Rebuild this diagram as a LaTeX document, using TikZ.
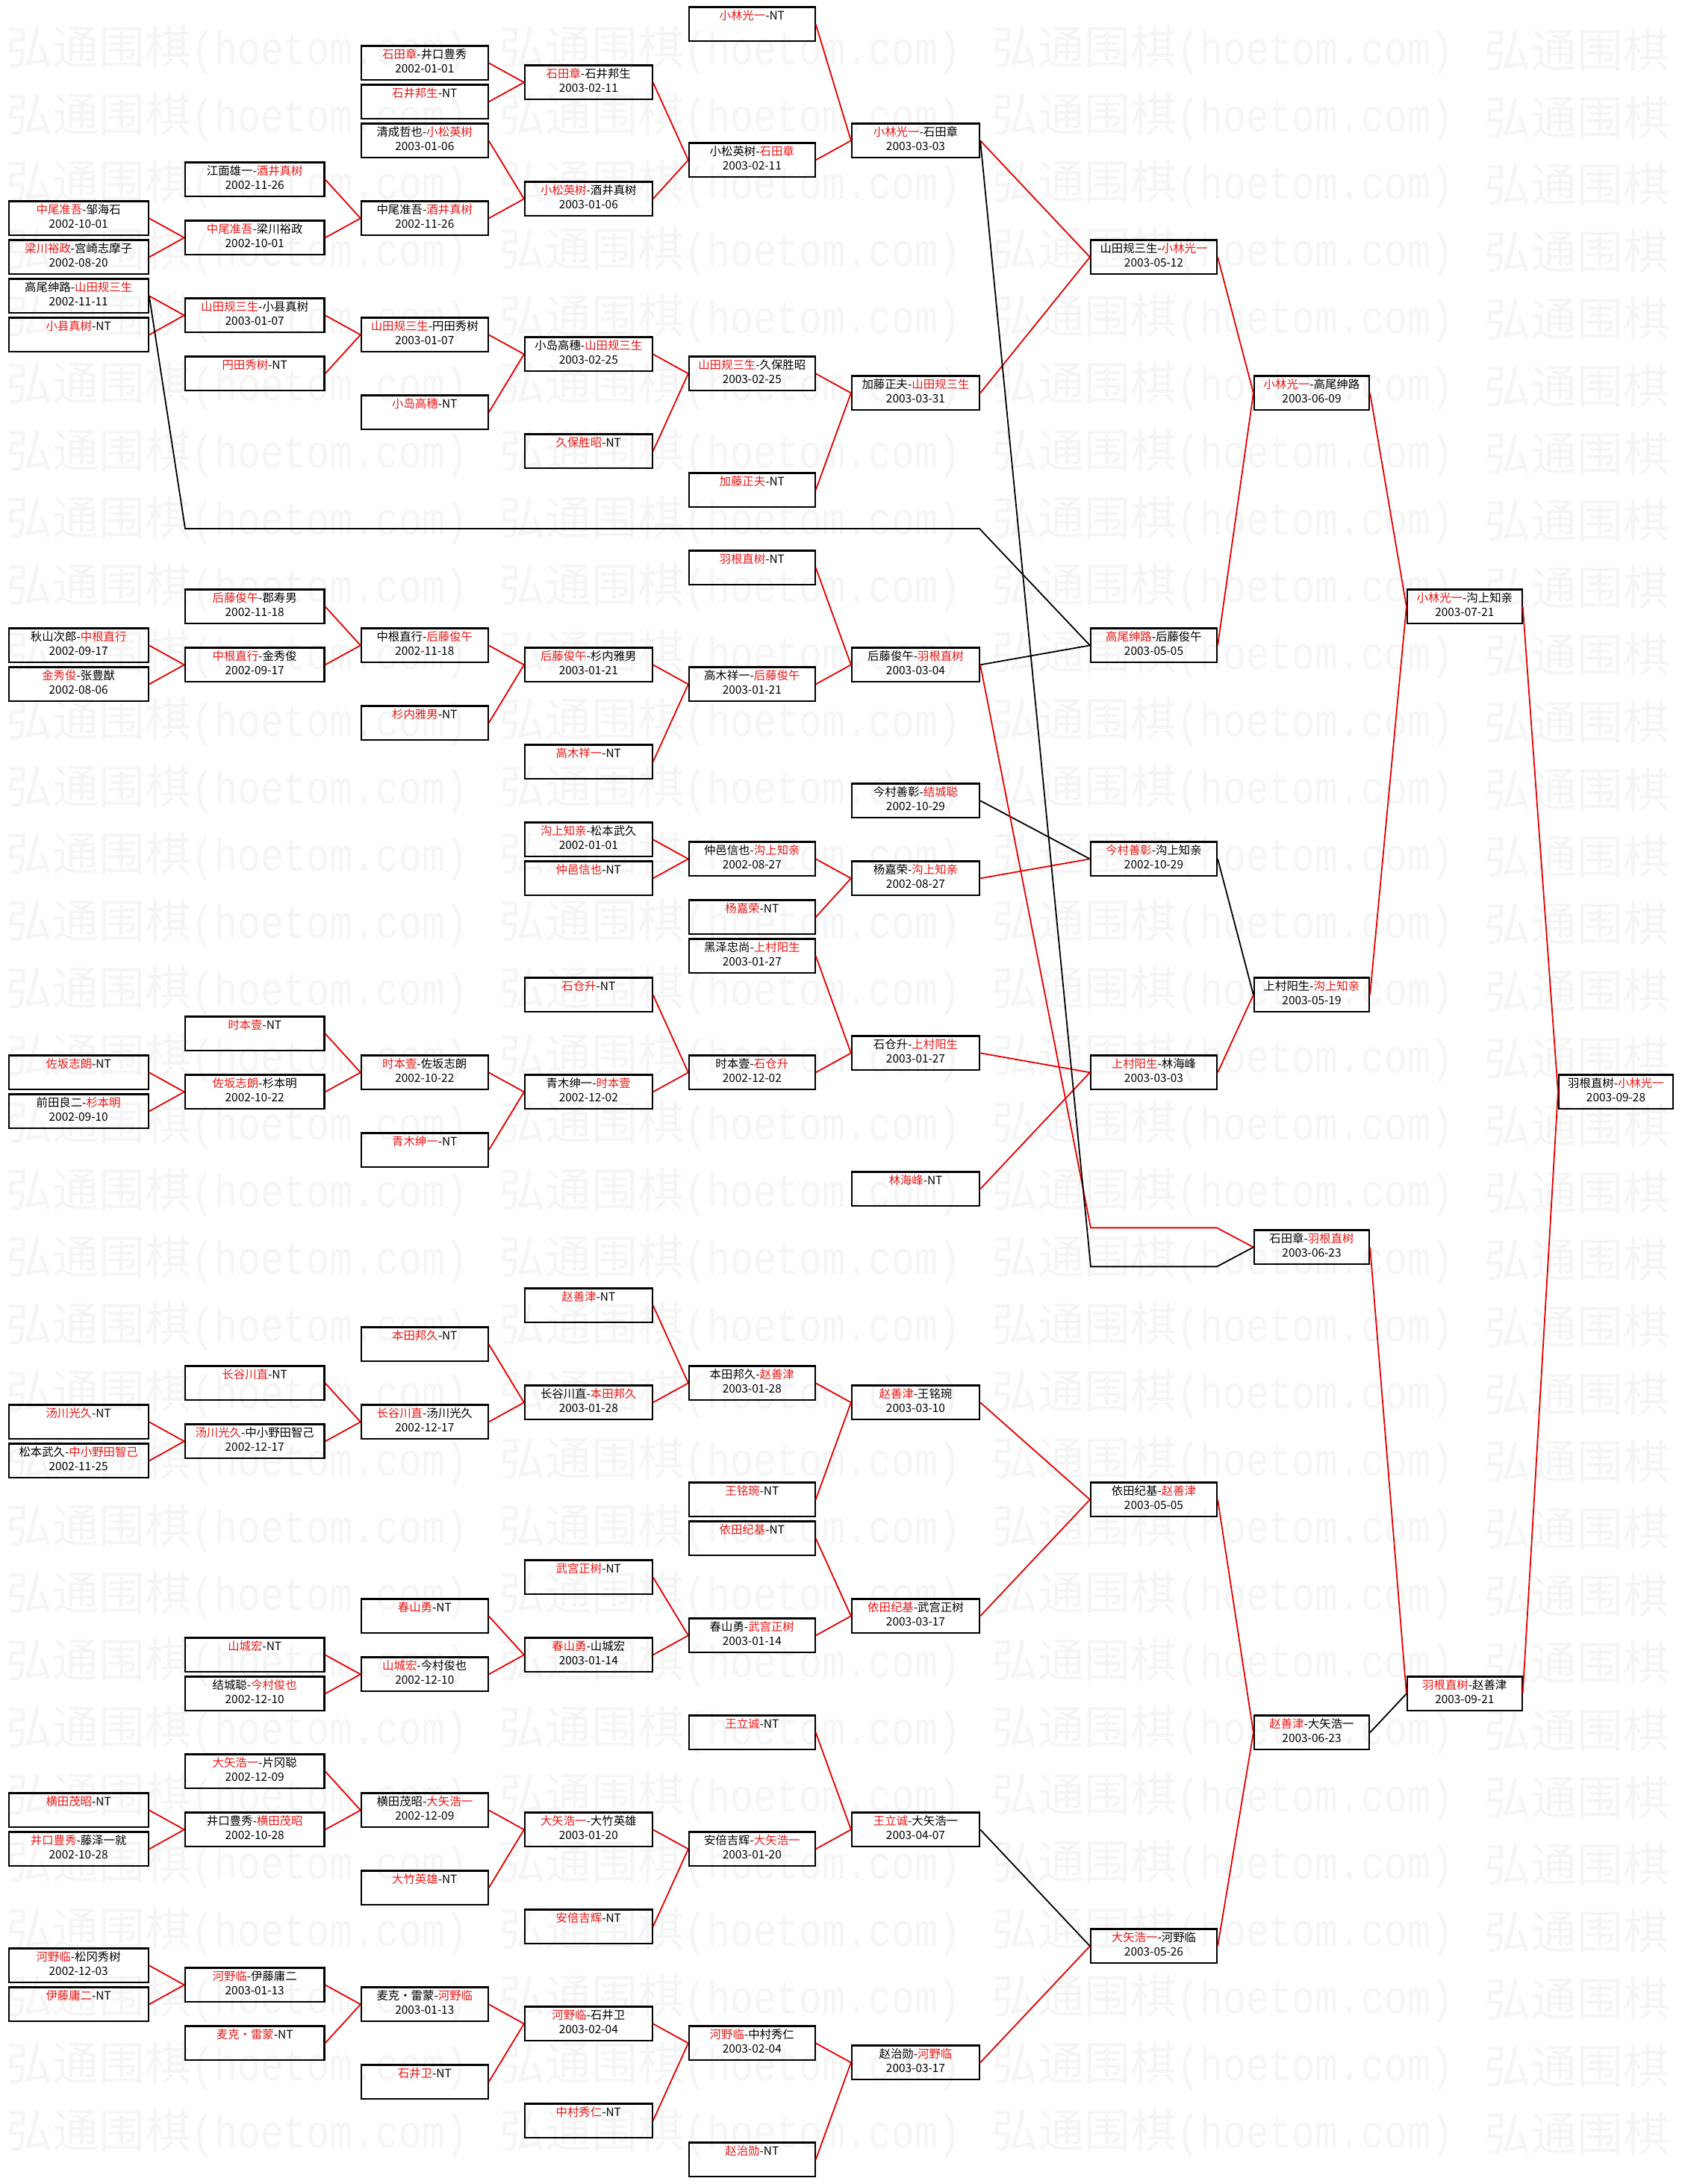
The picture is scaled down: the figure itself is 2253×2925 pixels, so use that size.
\documentclass[tikz,border=0pt]{standalone}
\usepackage{fontspec}
\newfontfamily\cjk{Noto Sans CJK SC}
\newfontfamily\wmmono[FakeStretch=0.83]{Liberation Mono}
\definecolor{wred}{RGB}{228,0,0}
\definecolor{tred}{RGB}{232,24,24}
\definecolor{wmc}{RGB}{245,245,245}
\newcommand\R[1]{\textcolor{tred}{#1}}
\newcommand\defcol[3]{\expandafter\def\csname colx#1\endcsname{#2}\expandafter\def\csname colw#1\endcsname{#3}}
\defcol{1}{105.2}{93.5pt}
\defcol{2}{341.2}{93.3pt}
\defcol{3}{568.8}{84.8pt}
\defcol{4}{788.3}{85.3pt}
\defcol{5}{1007.3}{84.3pt}
\defcol{6}{1226.5}{85.5pt}
\defcol{7}{1545.5}{84.5pt}
\defcol{8}{1757}{77pt}
\defcol{9}{1961.8}{76.8pt}
\defcol{10}{2164.5}{76.5pt}
\newcommand\cb[4]{%
  \edef\cbx{\csname colx#1\endcsname}\edef\cbw{\csname colw#1\endcsname}%
  \node[gbox, minimum width=\cbw] (c#1k#2) at (\cbx, {32.35+26*#2}) {\strut #3\\\strut #4};}
\newcommand\lk[3]{\draw[#1] (#2.east) -- (#3.west);}
\begin{document}
\begin{tikzpicture}[x=0.5pt,y=-0.5pt,
  gbox/.style={draw=black, line width=1.1pt, minimum height=22.85pt, inner sep=0pt, align=center, font=\cjk\fontsize{7.7}{9.2}\selectfont},
  rl/.style={draw=wred, line width=0.9pt},
  bl/.style={draw=black, line width=0.9pt},
  wmk/.style={text=wmc, anchor=west, inner sep=0pt}]
\useasboundingbox (0,0) rectangle (2253,2925);
\fill[white] (0,0) rectangle (2253,2925);
% watermark
\foreach \r in {0,...,31} {
  \foreach \c in {0,1,2} {
    \node[wmk] (wm-\r-\c) at ({8+660*\c},{67+90*\r}) {\cjk\fontsize{31}{31}\selectfont 弘通围棋\wmmono(hoetom.com)};}
  \node[wmk] (wm-\r-3) at (1988,{67+90*\r}) {\cjk\fontsize{31}{31}\selectfont 弘通围棋};}
% column 1
\cb{1}{10}{\R{中尾准吾}-邹海石}{2002-10-01}
\cb{1}{12}{\R{梁川裕政}-宫崎志摩子}{2002-08-20}
\cb{1}{14}{高尾绅路-\R{山田规三生}}{2002-11-11}
\cb{1}{16}{\R{小县真树}-NT}{}
\cb{1}{32}{秋山次郎-\R{中根直行}}{2002-09-17}
\cb{1}{34}{\R{金秀俊}-张豊猷}{2002-08-06}
\cb{1}{54}{\R{佐坂志朗}-NT}{}
\cb{1}{56}{前田良二-\R{杉本明}}{2002-09-10}
\cb{1}{72}{\R{汤川光久}-NT}{}
\cb{1}{74}{松本武久-\R{中小野田智己}}{2002-11-25}
\cb{1}{92}{\R{横田茂昭}-NT}{}
\cb{1}{94}{\R{井口豊秀}-藤泽一就}{2002-10-28}
\cb{1}{100}{\R{河野临}-松冈秀树}{2002-12-03}
\cb{1}{102}{\R{伊藤庸二}-NT}{}
% column 2
\cb{2}{8}{江面雄一-\R{酒井真树}}{2002-11-26}
\cb{2}{11}{\R{中尾准吾}-梁川裕政}{2002-10-01}
\cb{2}{15}{\R{山田规三生}-小县真树}{2003-01-07}
\cb{2}{18}{\R{円田秀树}-NT}{}
\cb{2}{30}{\R{后藤俊午}-郡寿男}{2002-11-18}
\cb{2}{33}{\R{中根直行}-金秀俊}{2002-09-17}
\cb{2}{52}{\R{时本壹}-NT}{}
\cb{2}{55}{\R{佐坂志朗}-杉本明}{2002-10-22}
\cb{2}{70}{\R{长谷川直}-NT}{}
\cb{2}{73}{\R{汤川光久}-中小野田智己}{2002-12-17}
\cb{2}{84}{\R{山城宏}-NT}{}
\cb{2}{86}{结城聪-\R{今村俊也}}{2002-12-10}
\cb{2}{90}{\R{大矢浩一}-片冈聪}{2002-12-09}
\cb{2}{93}{井口豊秀-\R{横田茂昭}}{2002-10-28}
\cb{2}{101}{\R{河野临}-伊藤庸二}{2003-01-13}
\cb{2}{104}{\R{麦克・雷蒙}-NT}{}
% column 3
\cb{3}{2}{\R{石田章}-井口豊秀}{2002-01-01}
\cb{3}{4}{\R{石井邦生}-NT}{}
\cb{3}{6}{清成哲也-\R{小松英树}}{2003-01-06}
\cb{3}{10}{中尾准吾-\R{酒井真树}}{2002-11-26}
\cb{3}{16}{\R{山田规三生}-円田秀树}{2003-01-07}
\cb{3}{20}{\R{小岛高穗}-NT}{}
\cb{3}{32}{中根直行-\R{后藤俊午}}{2002-11-18}
\cb{3}{36}{\R{杉内雅男}-NT}{}
\cb{3}{54}{\R{时本壹}-佐坂志朗}{2002-10-22}
\cb{3}{58}{\R{青木绅一}-NT}{}
\cb{3}{68}{\R{本田邦久}-NT}{}
\cb{3}{72}{\R{长谷川直}-汤川光久}{2002-12-17}
\cb{3}{82}{\R{春山勇}-NT}{}
\cb{3}{85}{\R{山城宏}-今村俊也}{2002-12-10}
\cb{3}{92}{横田茂昭-\R{大矢浩一}}{2002-12-09}
\cb{3}{96}{\R{大竹英雄}-NT}{}
\cb{3}{102}{麦克・雷蒙-\R{河野临}}{2003-01-13}
\cb{3}{106}{\R{石井卫}-NT}{}
% column 4
\cb{4}{3}{\R{石田章}-石井邦生}{2003-02-11}
\cb{4}{9}{\R{小松英树}-酒井真树}{2003-01-06}
\cb{4}{17}{小岛高穗-\R{山田规三生}}{2003-02-25}
\cb{4}{22}{\R{久保胜昭}-NT}{}
\cb{4}{33}{\R{后藤俊午}-杉内雅男}{2003-01-21}
\cb{4}{38}{\R{高木祥一}-NT}{}
\cb{4}{42}{\R{沟上知亲}-松本武久}{2002-01-01}
\cb{4}{44}{\R{仲邑信也}-NT}{}
\cb{4}{50}{\R{石仓升}-NT}{}
\cb{4}{55}{青木绅一-\R{时本壹}}{2002-12-02}
\cb{4}{66}{\R{赵善津}-NT}{}
\cb{4}{71}{长谷川直-\R{本田邦久}}{2003-01-28}
\cb{4}{80}{\R{武宫正树}-NT}{}
\cb{4}{84}{\R{春山勇}-山城宏}{2003-01-14}
\cb{4}{93}{\R{大矢浩一}-大竹英雄}{2003-01-20}
\cb{4}{98}{\R{安倍吉辉}-NT}{}
\cb{4}{103}{\R{河野临}-石井卫}{2003-02-04}
\cb{4}{108}{\R{中村秀仁}-NT}{}
% column 5
\cb{5}{0}{\R{小林光一}-NT}{}
\cb{5}{7}{小松英树-\R{石田章}}{2003-02-11}
\cb{5}{18}{\R{山田规三生}-久保胜昭}{2003-02-25}
\cb{5}{24}{\R{加藤正夫}-NT}{}
\cb{5}{28}{\R{羽根直树}-NT}{}
\cb{5}{34}{高木祥一-\R{后藤俊午}}{2003-01-21}
\cb{5}{43}{仲邑信也-\R{沟上知亲}}{2002-08-27}
\cb{5}{46}{\R{杨嘉荣}-NT}{}
\cb{5}{48}{黑泽忠尚-\R{上村阳生}}{2003-01-27}
\cb{5}{54}{时本壹-\R{石仓升}}{2002-12-02}
\cb{5}{70}{本田邦久-\R{赵善津}}{2003-01-28}
\cb{5}{76}{\R{王铭琬}-NT}{}
\cb{5}{78}{\R{依田纪基}-NT}{}
\cb{5}{83}{春山勇-\R{武宫正树}}{2003-01-14}
\cb{5}{88}{\R{王立诚}-NT}{}
\cb{5}{94}{安倍吉辉-\R{大矢浩一}}{2003-01-20}
\cb{5}{104}{\R{河野临}-中村秀仁}{2003-02-04}
\cb{5}{110}{\R{赵治勋}-NT}{}
% column 6
\cb{6}{6}{\R{小林光一}-石田章}{2003-03-03}
\cb{6}{19}{加藤正夫-\R{山田规三生}}{2003-03-31}
\cb{6}{33}{后藤俊午-\R{羽根直树}}{2003-03-04}
\cb{6}{40}{今村善彰-\R{结城聪}}{2002-10-29}
\cb{6}{44}{杨嘉荣-\R{沟上知亲}}{2002-08-27}
\cb{6}{53}{石仓升-\R{上村阳生}}{2003-01-27}
\cb{6}{60}{\R{林海峰}-NT}{}
\cb{6}{71}{\R{赵善津}-王铭琬}{2003-03-10}
\cb{6}{82}{\R{依田纪基}-武宫正树}{2003-03-17}
\cb{6}{93}{\R{王立诚}-大矢浩一}{2003-04-07}
\cb{6}{105}{赵治勋-\R{河野临}}{2003-03-17}
% column 7
\cb{7}{12}{山田规三生-\R{小林光一}}{2003-05-12}
\cb{7}{32}{\R{高尾绅路}-后藤俊午}{2003-05-05}
\cb{7}{43}{\R{今村善彰}-沟上知亲}{2002-10-29}
\cb{7}{54}{\R{上村阳生}-林海峰}{2003-03-03}
\cb{7}{76}{依田纪基-\R{赵善津}}{2003-05-05}
\cb{7}{99}{\R{大矢浩一}-河野临}{2003-05-26}
% column 8
\cb{8}{19}{\R{小林光一}-高尾绅路}{2003-06-09}
\cb{8}{50}{上村阳生-\R{沟上知亲}}{2003-05-19}
\cb{8}{63}{石田章-\R{羽根直树}}{2003-06-23}
\cb{8}{88}{\R{赵善津}-大矢浩一}{2003-06-23}
% column 9
\cb{9}{30}{\R{小林光一}-沟上知亲}{2003-07-21}
\cb{9}{86}{\R{羽根直树}-赵善津}{2003-09-21}
% column 10
\cb{10}{55}{羽根直树-\R{小林光一}}{2003-09-28}
% links col1 -> col2
\lk{rl}{c1k10}{c2k11}\lk{rl}{c1k12}{c2k11}
\lk{rl}{c1k14}{c2k15}\lk{rl}{c1k16}{c2k15}
\lk{rl}{c1k32}{c2k33}\lk{rl}{c1k34}{c2k33}
\lk{rl}{c1k54}{c2k55}\lk{rl}{c1k56}{c2k55}
\lk{rl}{c1k72}{c2k73}\lk{rl}{c1k74}{c2k73}
\lk{rl}{c1k92}{c2k93}\lk{rl}{c1k94}{c2k93}
\lk{rl}{c1k100}{c2k101}\lk{rl}{c1k102}{c2k101}
% col2 -> col3
\lk{rl}{c2k8}{c3k10}\lk{rl}{c2k11}{c3k10}
\lk{rl}{c2k15}{c3k16}\lk{rl}{c2k18}{c3k16}
\lk{rl}{c2k30}{c3k32}\lk{rl}{c2k33}{c3k32}
\lk{rl}{c2k52}{c3k54}\lk{rl}{c2k55}{c3k54}
\lk{rl}{c2k70}{c3k72}\lk{rl}{c2k73}{c3k72}
\lk{rl}{c2k84}{c3k85}\lk{rl}{c2k86}{c3k85}
\lk{rl}{c2k90}{c3k92}\lk{rl}{c2k93}{c3k92}
\lk{rl}{c2k101}{c3k102}\lk{rl}{c2k104}{c3k102}
% col3 -> col4
\lk{rl}{c3k2}{c4k3}\lk{rl}{c3k4}{c4k3}
\lk{rl}{c3k6}{c4k9}\lk{rl}{c3k10}{c4k9}
\lk{rl}{c3k16}{c4k17}\lk{rl}{c3k20}{c4k17}
\lk{rl}{c3k32}{c4k33}\lk{rl}{c3k36}{c4k33}
\lk{rl}{c3k54}{c4k55}\lk{rl}{c3k58}{c4k55}
\lk{rl}{c3k68}{c4k71}\lk{rl}{c3k72}{c4k71}
\lk{rl}{c3k82}{c4k84}\lk{rl}{c3k85}{c4k84}
\lk{rl}{c3k92}{c4k93}\lk{rl}{c3k96}{c4k93}
\lk{rl}{c3k102}{c4k103}\lk{rl}{c3k106}{c4k103}
% col4 -> col5
\lk{rl}{c4k3}{c5k7}\lk{rl}{c4k9}{c5k7}
\lk{rl}{c4k17}{c5k18}\lk{rl}{c4k22}{c5k18}
\lk{rl}{c4k33}{c5k34}\lk{rl}{c4k38}{c5k34}
\lk{rl}{c4k42}{c5k43}\lk{rl}{c4k44}{c5k43}
\lk{rl}{c4k50}{c5k54}\lk{rl}{c4k55}{c5k54}
\lk{rl}{c4k66}{c5k70}\lk{rl}{c4k71}{c5k70}
\lk{rl}{c4k80}{c5k83}\lk{rl}{c4k84}{c5k83}
\lk{rl}{c4k93}{c5k94}\lk{rl}{c4k98}{c5k94}
\lk{rl}{c4k103}{c5k104}\lk{rl}{c4k108}{c5k104}
% col5 -> col6
\lk{rl}{c5k0}{c6k6}\lk{rl}{c5k7}{c6k6}
\lk{rl}{c5k18}{c6k19}\lk{rl}{c5k24}{c6k19}
\lk{rl}{c5k28}{c6k33}\lk{rl}{c5k34}{c6k33}
\lk{rl}{c5k43}{c6k44}\lk{rl}{c5k46}{c6k44}
\lk{rl}{c5k48}{c6k53}\lk{rl}{c5k54}{c6k53}
\lk{rl}{c5k70}{c6k71}\lk{rl}{c5k76}{c6k71}
\lk{rl}{c5k78}{c6k82}\lk{rl}{c5k83}{c6k82}
\lk{rl}{c5k88}{c6k93}\lk{rl}{c5k94}{c6k93}
\lk{rl}{c5k104}{c6k105}\lk{rl}{c5k110}{c6k105}
% col6 -> col7
\lk{rl}{c6k6}{c7k12}\lk{rl}{c6k19}{c7k12}
\lk{bl}{c6k33}{c7k32}
\lk{bl}{c6k40}{c7k43}\lk{rl}{c6k44}{c7k43}
\lk{rl}{c6k53}{c7k54}\lk{rl}{c6k60}{c7k54}
\lk{rl}{c6k71}{c7k76}\lk{rl}{c6k82}{c7k76}
\lk{bl}{c6k93}{c7k99}\lk{rl}{c6k105}{c7k99}
% col7 -> col8
\lk{rl}{c7k12}{c8k19}\lk{rl}{c7k32}{c8k19}
\lk{bl}{c7k43}{c8k50}\lk{rl}{c7k54}{c8k50}
\lk{rl}{c7k76}{c8k88}\lk{rl}{c7k99}{c8k88}
% col8 -> col9
\lk{rl}{c8k19}{c9k30}\lk{rl}{c8k50}{c9k30}
\lk{rl}{c8k63}{c9k86}\lk{bl}{c8k88}{c9k86}
% col9 -> col10
\lk{rl}{c9k30}{c10k55}\lk{rl}{c9k86}{c10k55}
% long connectors
\draw[bl] (c1k14.east) -- (248,708) -- (1312,708) -- (c7k32.west);
\draw[rl] (c6k33.east) -- (1461,1644.35) -- (1630,1644.35) -- (c8k63.west);
\draw[bl] (c6k6.east) -- (1461,1696.35) -- (1630,1696.35) -- (c8k63.west);
\end{tikzpicture}
\end{document}
